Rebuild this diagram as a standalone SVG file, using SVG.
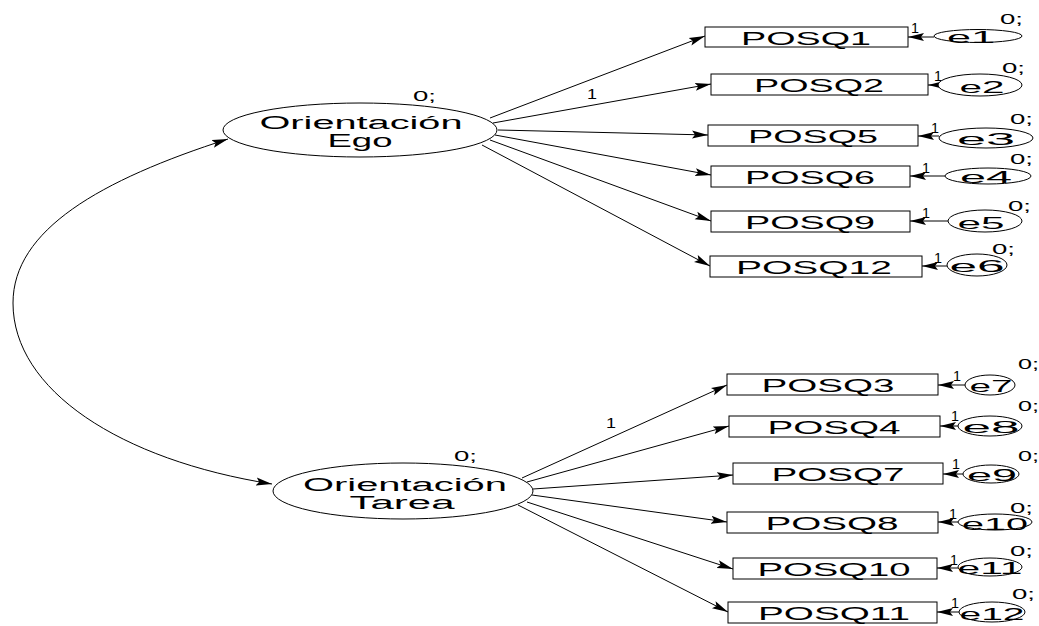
<svg xmlns="http://www.w3.org/2000/svg" width="1039" height="626" viewBox="0 0 1039 626">
  <style>
    .shape { fill: #ffffff; stroke: #000000; stroke-width: 1; }
    .edge { fill: none; stroke: #000000; stroke-width: 1; marker-end: url(#arrow); }
    .cov { fill: none; stroke: #000000; stroke-width: 1; marker-start: url(#arrow-start); marker-end: url(#arrow); }
    text { font-family: "Liberation Sans", Arial, sans-serif; fill: #000000; }
    .big { font-size: 18px; text-anchor: middle; }
    .err { font-size: 16px; text-anchor: middle; }
    .small { font-size: 14px; }
    .w { font-size: 15px; }
  </style>
  <defs>
    <marker id="arrow" viewBox="0 0 16 9" refX="16" refY="4.5" markerWidth="16" markerHeight="9" markerUnits="userSpaceOnUse" orient="auto">
      <path d="M0,0.5 L16,4.5 L0,8.5 L3,4.5 Z" fill="#000000"/>
    </marker>
    <marker id="arrow-start" viewBox="0 0 16 9" refX="16" refY="4.5" markerWidth="16" markerHeight="9" markerUnits="userSpaceOnUse" orient="auto-start-reverse">
      <path d="M0,0.5 L16,4.5 L0,8.5 L3,4.5 Z" fill="#000000"/>
    </marker>
  </defs>

  <rect width="1039" height="626" fill="#ffffff"/>

  <!-- connectors -->
  <g id="connectors">
    <!-- covariance between the two latent factors -->
    <path class="cov" d="M228,139 C100,180 13,230 13,303 C13,390 120,460 272,484"/>

    <!-- loadings: Orientación Ego -->
    <line class="edge" x1="490" y1="118" x2="705" y2="36"/>
    <line class="edge" x1="493" y1="123" x2="711" y2="84"/>
    <line class="edge" x1="498" y1="130" x2="708" y2="135"/>
    <line class="edge" x1="495" y1="135" x2="711" y2="175"/>
    <line class="edge" x1="490" y1="140" x2="711" y2="221"/>
    <line class="edge" x1="482" y1="145" x2="710" y2="266"/>

    <!-- loadings: Orientación Tarea -->
    <line class="edge" x1="522" y1="478" x2="727" y2="385"/>
    <line class="edge" x1="527" y1="482" x2="729" y2="426"/>
    <line class="edge" x1="533" y1="489" x2="733" y2="475"/>
    <line class="edge" x1="532" y1="495" x2="727" y2="522"/>
    <line class="edge" x1="527" y1="502" x2="733" y2="569"/>
    <line class="edge" x1="518" y1="505" x2="728" y2="612"/>

    <!-- error terms -->
    <line class="edge" x1="934" y1="37" x2="908" y2="37"/>
    <line class="edge" x1="938" y1="85" x2="928" y2="85"/>
    <line class="edge" x1="939" y1="136" x2="918" y2="136"/>
    <line class="edge" x1="945" y1="176" x2="910" y2="176"/>
    <line class="edge" x1="948" y1="221" x2="910" y2="221"/>
    <line class="edge" x1="947" y1="266" x2="922" y2="266"/>
    <line class="edge" x1="965" y1="385" x2="938" y2="385"/>
    <line class="edge" x1="958" y1="426" x2="940" y2="426"/>
    <line class="edge" x1="963" y1="474" x2="943" y2="474"/>
    <line class="edge" x1="958" y1="522" x2="938" y2="522"/>
    <line class="edge" x1="958" y1="568" x2="937" y2="568"/>
    <line class="edge" x1="959" y1="612" x2="937" y2="612"/>

    <!-- path weights -->
    <text class="w" x="587" y="99" textLength="10" lengthAdjust="spacingAndGlyphs">1</text>
    <text class="w" x="606" y="428" textLength="10" lengthAdjust="spacingAndGlyphs">1</text>
    <text class="w" x="911" y="33" textLength="8" lengthAdjust="spacingAndGlyphs">1</text>
    <text class="w" x="934" y="81" textLength="8" lengthAdjust="spacingAndGlyphs">1</text>
    <text class="w" x="931" y="133" textLength="8" lengthAdjust="spacingAndGlyphs">1</text>
    <text class="w" x="922" y="173" textLength="8" lengthAdjust="spacingAndGlyphs">1</text>
    <text class="w" x="922" y="218" textLength="8" lengthAdjust="spacingAndGlyphs">1</text>
    <text class="w" x="934" y="263" textLength="8" lengthAdjust="spacingAndGlyphs">1</text>
    <text class="w" x="953" y="381" textLength="8" lengthAdjust="spacingAndGlyphs">1</text>
    <text class="w" x="951" y="421" textLength="8" lengthAdjust="spacingAndGlyphs">1</text>
    <text class="w" x="952" y="469" textLength="8" lengthAdjust="spacingAndGlyphs">1</text>
    <text class="w" x="949" y="519" textLength="8" lengthAdjust="spacingAndGlyphs">1</text>
    <text class="w" x="950" y="565" textLength="8" lengthAdjust="spacingAndGlyphs">1</text>
    <text class="w" x="951" y="608" textLength="8" lengthAdjust="spacingAndGlyphs">1</text>
  </g>

  <!-- latent factors -->
  <g id="ego">
    <ellipse class="shape" cx="360" cy="130" rx="137" ry="27"/>
    <text class="big" x="361" y="129" textLength="203" lengthAdjust="spacingAndGlyphs">Orientación</text>
    <text class="big" x="360" y="147" textLength="65" lengthAdjust="spacingAndGlyphs">Ego</text>
    <text class="small" x="413" y="101" textLength="23" lengthAdjust="spacingAndGlyphs">0;</text>
  </g>
  <g id="tarea">
    <ellipse class="shape" cx="403" cy="491" rx="130" ry="28"/>
    <text class="big" x="405" y="491" textLength="204" lengthAdjust="spacingAndGlyphs">Orientación</text>
    <text class="big" x="402" y="509" textLength="105" lengthAdjust="spacingAndGlyphs">Tarea</text>
    <text class="small" x="454" y="461" textLength="23" lengthAdjust="spacingAndGlyphs">0;</text>
  </g>

  <!-- observed items -->
  <g id="posq1"><rect class="shape" x="705" y="27" width="203" height="20"/><text class="big" x="806" y="45" textLength="130" lengthAdjust="spacingAndGlyphs">POSQ1</text></g>
  <g id="posq2"><rect class="shape" x="711" y="74" width="217" height="21"/><text class="big" x="819" y="92" textLength="130" lengthAdjust="spacingAndGlyphs">POSQ2</text></g>
  <g id="posq5"><rect class="shape" x="708" y="125" width="210" height="21"/><text class="big" x="813" y="143" textLength="130" lengthAdjust="spacingAndGlyphs">POSQ5</text></g>
  <g id="posq6"><rect class="shape" x="711" y="166" width="199" height="21"/><text class="big" x="810" y="184" textLength="130" lengthAdjust="spacingAndGlyphs">POSQ6</text></g>
  <g id="posq9"><rect class="shape" x="711" y="211" width="199" height="21"/><text class="big" x="810" y="229" textLength="130" lengthAdjust="spacingAndGlyphs">POSQ9</text></g>
  <g id="posq12"><rect class="shape" x="710" y="256" width="212" height="21"/><text class="big" x="814" y="274" textLength="156" lengthAdjust="spacingAndGlyphs">POSQ12</text></g>
  <g id="posq3"><rect class="shape" x="727" y="374" width="211" height="21"/><text class="big" x="828" y="392" textLength="133" lengthAdjust="spacingAndGlyphs">POSQ3</text></g>
  <g id="posq4"><rect class="shape" x="729" y="416" width="211" height="21"/><text class="big" x="834" y="434" textLength="133" lengthAdjust="spacingAndGlyphs">POSQ4</text></g>
  <g id="posq7"><rect class="shape" x="733" y="463" width="210" height="21"/><text class="big" x="838" y="481" textLength="133" lengthAdjust="spacingAndGlyphs">POSQ7</text></g>
  <g id="posq8"><rect class="shape" x="727" y="512" width="211" height="21"/><text class="big" x="832" y="530" textLength="133" lengthAdjust="spacingAndGlyphs">POSQ8</text></g>
  <g id="posq10"><rect class="shape" x="733" y="558" width="204" height="21"/><text class="big" x="834" y="576" textLength="153" lengthAdjust="spacingAndGlyphs">POSQ10</text></g>
  <g id="posq11"><rect class="shape" x="728" y="602" width="209" height="21"/><text class="big" x="834" y="620" textLength="152" lengthAdjust="spacingAndGlyphs">POSQ11</text></g>

  <!-- residuals -->
  <g id="e1"><ellipse class="shape" cx="978" cy="36" rx="44" ry="6.5"/><text class="err" x="971" y="43" textLength="48" lengthAdjust="spacingAndGlyphs">e1</text><text class="small" x="1000" y="24" textLength="23" lengthAdjust="spacingAndGlyphs">0;</text></g>
  <g id="e2"><ellipse class="shape" cx="980" cy="85" rx="42" ry="11"/><text class="err" x="982" y="93" textLength="45" lengthAdjust="spacingAndGlyphs">e2</text><text class="small" x="1002" y="73" textLength="23" lengthAdjust="spacingAndGlyphs">0;</text></g>
  <g id="e3"><ellipse class="shape" cx="986" cy="138" rx="47" ry="10"/><text class="err" x="986" y="145" textLength="58" lengthAdjust="spacingAndGlyphs">e3</text><text class="small" x="1010" y="124" textLength="23" lengthAdjust="spacingAndGlyphs">0;</text></g>
  <g id="e4"><ellipse class="shape" cx="988" cy="176" rx="43" ry="8"/><text class="err" x="986" y="183" textLength="52" lengthAdjust="spacingAndGlyphs">e4</text><text class="small" x="1010" y="164" textLength="23" lengthAdjust="spacingAndGlyphs">0;</text></g>
  <g id="e5"><ellipse class="shape" cx="985" cy="221" rx="37" ry="11"/><text class="err" x="981" y="229" textLength="47" lengthAdjust="spacingAndGlyphs">e5</text><text class="small" x="1008" y="211" textLength="23" lengthAdjust="spacingAndGlyphs">0;</text></g>
  <g id="e6"><ellipse class="shape" cx="977" cy="265" rx="30" ry="11"/><text class="err" x="977" y="272" textLength="55" lengthAdjust="spacingAndGlyphs">e6</text><text class="small" x="992" y="254" textLength="23" lengthAdjust="spacingAndGlyphs">0;</text></g>
  <g id="e7"><ellipse class="shape" cx="990" cy="385" rx="25" ry="10"/><text class="err" x="991" y="392" textLength="43" lengthAdjust="spacingAndGlyphs">e7</text><text class="small" x="1018" y="369" textLength="21" lengthAdjust="spacingAndGlyphs">0;</text></g>
  <g id="e8"><ellipse class="shape" cx="990" cy="426" rx="32" ry="10"/><text class="err" x="991" y="433" textLength="57" lengthAdjust="spacingAndGlyphs">e8</text><text class="small" x="1018" y="411" textLength="21" lengthAdjust="spacingAndGlyphs">0;</text></g>
  <g id="e9"><ellipse class="shape" cx="991" cy="474" rx="28" ry="9"/><text class="err" x="992" y="481" textLength="50" lengthAdjust="spacingAndGlyphs">e9</text><text class="small" x="1018" y="461" textLength="21" lengthAdjust="spacingAndGlyphs">0;</text></g>
  <g id="e10"><ellipse class="shape" cx="995" cy="522" rx="37" ry="8"/><text class="err" x="995" y="530" textLength="66" lengthAdjust="spacingAndGlyphs">e10</text><text class="small" x="1010" y="513" textLength="23" lengthAdjust="spacingAndGlyphs">0;</text></g>
  <g id="e11"><ellipse class="shape" cx="990" cy="567" rx="32" ry="9"/><text class="err" x="990" y="574" textLength="65" lengthAdjust="spacingAndGlyphs">e11</text><text class="small" x="1010" y="556" textLength="23" lengthAdjust="spacingAndGlyphs">0;</text></g>
  <g id="e12"><ellipse class="shape" cx="992" cy="612" rx="33" ry="10"/><text class="err" x="992" y="620" textLength="65" lengthAdjust="spacingAndGlyphs">e12</text><text class="small" x="1012" y="599" textLength="23" lengthAdjust="spacingAndGlyphs">0;</text></g>
</svg>
